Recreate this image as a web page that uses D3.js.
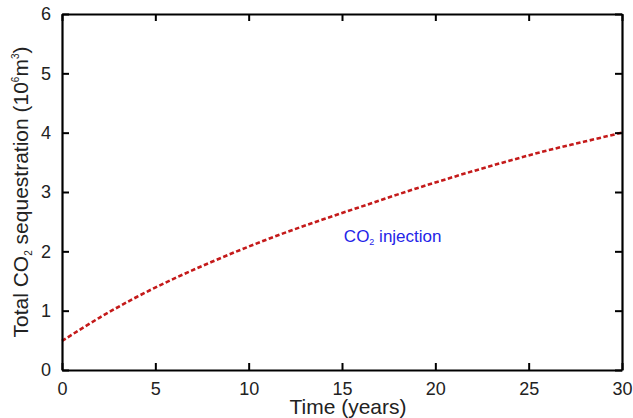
<!DOCTYPE html>
<html>
<head>
<meta charset="utf-8">
<script src="https://cdn.jsdelivr.net/npm/d3@7"></script>
<style>
  body { margin: 0; background: #fff; }
  svg { display: block; font-family: "Liberation Sans", Arial, sans-serif; }
</style>
</head>
<body>
<div id="chart"></div>
<script>
// Time (years) and total CO2 sequestration (10^6 m^3)
const years = [0, 2, 4, 6, 8, 10, 12, 14, 16, 18, 20, 22, 24, 26, 28, 30];
const sequestration = [0.49, 0.88, 1.23, 1.54, 1.82, 2.08, 2.32, 2.54, 2.75, 2.96, 3.16, 3.35, 3.53, 3.70, 3.85, 4.00];
const xTicks = [0, 5, 10, 15, 20, 25, 30];
const yTicks = [0, 1, 2, 3, 4, 5, 6];

const width = 633;
const height = 418;
const margin = { top: 14, right: 11, bottom: 48, left: 62 };
const innerWidth = width - margin.left - margin.right;
const innerHeight = height - margin.top - margin.bottom;

const svg = d3.select("#chart")
  .append("svg")
  .attr("width", width)
  .attr("height", height);

const g = svg.append("g")
  .attr("transform", `translate(${margin.left}, ${margin.top})`);

const xScale = d3.scaleLinear().domain([0, 30]).range([0, innerWidth]);
const yScale = d3.scaleLinear().domain([0, 6]).range([innerHeight, 0]);

const data = years.map((t, i) => ({ t, v: sequestration[i] }));

// Curve
const line = d3.line()
  .x(d => xScale(d.t))
  .y(d => yScale(d.v))
  .curve(d3.curveCatmullRom);

g.append("path")
  .datum(data)
  .attr("fill", "none")
  .attr("stroke", "#c41a1a")
  .attr("stroke-width", 2.6)
  .attr("stroke-dasharray", "4.5,2.5")
  .attr("d", line);

// Axes - ticks pointing inward on all four sides
const tickLen = 7;
const styleAxis = sel => {
  sel.select(".domain").attr("stroke", "#000").attr("stroke-width", 2.2);
  sel.selectAll(".tick line").attr("stroke", "#000").attr("stroke-width", 2);
  sel.selectAll(".tick text").style("font-size", "18px").attr("fill", "#222");
};

g.append("g")
  .attr("transform", `translate(0, ${innerHeight})`)
  .call(d3.axisBottom(xScale).tickValues(xTicks).tickFormat(d3.format("d"))
    .tickSizeInner(-tickLen).tickSizeOuter(0).tickPadding(12))
  .call(styleAxis);

g.append("g")
  .call(d3.axisLeft(yScale).tickValues(yTicks).tickFormat(d3.format("d"))
    .tickSizeInner(-tickLen).tickSizeOuter(0).tickPadding(11))
  .call(styleAxis);

g.append("g")
  .call(d3.axisTop(xScale).tickValues(xTicks).tickSizeInner(-tickLen).tickSizeOuter(0).tickFormat(""))
  .call(styleAxis);

g.append("g")
  .attr("transform", `translate(${innerWidth}, 0)`)
  .call(d3.axisRight(yScale).tickValues(yTicks).tickSizeInner(-tickLen).tickSizeOuter(0).tickFormat(""))
  .call(styleAxis);

// X axis label
svg.append("text")
  .attr("x", margin.left + innerWidth / 2 + 6)
  .attr("y", height - 4)
  .attr("text-anchor", "middle")
  .style("font-size", "21px")
  .attr("fill", "#222")
  .text("Time (years)");

// Y axis label with sub/superscripts
const yLabel = svg.append("text")
  .attr("transform", `translate(28, ${margin.top + innerHeight / 2}) rotate(-90)`)
  .attr("text-anchor", "middle")
  .style("font-size", "21px")
  .attr("fill", "#222");
yLabel.append("tspan").text("Total CO");
yLabel.append("tspan").attr("dy", 4).style("font-size", "10px").text("2");
yLabel.append("tspan").attr("dy", -4).text(" sequestration (10");
yLabel.append("tspan").attr("dy", -9).style("font-size", "10px").text("6");
yLabel.append("tspan").attr("dy", 9).text("m");
yLabel.append("tspan").attr("dy", -9).style("font-size", "10px").text("3");
yLabel.append("tspan").attr("dy", 9).text(")");

// Annotation
const note = g.append("text")
  .attr("x", xScale(15.1))
  .attr("y", yScale(2.16))
  .style("font-size", "17px")
  .attr("fill", "#2424e8");
note.append("tspan").text("CO");
note.append("tspan").attr("dy", 3).style("font-size", "9px").text("2");
note.append("tspan").attr("dy", -3).text(" injection");
</script>
</body>
</html>
